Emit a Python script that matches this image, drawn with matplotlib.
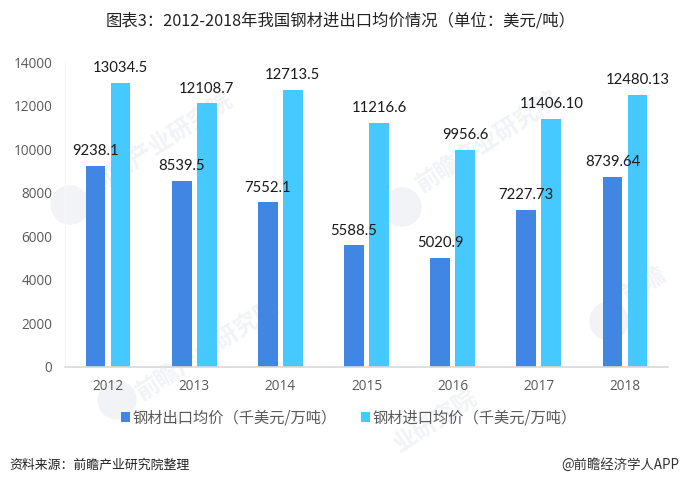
import matplotlib
matplotlib.use("Agg")
import matplotlib.pyplot as plt
from matplotlib.patches import Circle
import numpy as np

plt.rcParams["font.family"] = ["Noto Sans CJK SC", "DejaVu Sans"]

years = ["2012", "2013", "2014", "2015", "2016", "2017", "2018"]
export_price = [9238.1, 8539.5, 7552.1, 5588.5, 5020.9, 7227.73, 8739.64]
import_price = [13034.5, 12108.7, 12713.5, 11216.6, 9956.6, 11406.10, 12480.13]
export_labels = ["9238.1", "8539.5", "7552.1", "5588.5", "5020.9", "7227.73", "8739.64"]
import_labels = ["13034.5", "12108.7", "12713.5", "11216.6", "9956.6", "11406.10", "12480.13"]
y_ticks = [0, 2000, 4000, 6000, 8000, 10000, 12000, 14000]

title = "图表3：2012-2018年我国钢材进出口均价情况（单位：美元/吨）"
export_name = "钢材出口均价（千美元/万吨）"
import_name = "钢材进口均价（千美元/万吨）"

W, H = 680, 486
fig = plt.figure(figsize=(W / 100, H / 100), dpi=100, facecolor="white")
ax = fig.add_axes([65 / W, 1 - 367 / H, 603 / W, 305 / H])
ax.set_zorder(2)
ax.patch.set_alpha(0)

# faint watermark behind the bars
mark = "#f1f3f7"
for wx, wy, txt in [(162, 143, "前瞻产业研究院"), (488, 142, "前瞻产业研究院"),
                    (208, 350, "前瞻产业研究院"), (435, 420, "业研究院"), (645, 285, "前瞻")]:
    fig.text(wx / W, 1 - wy / H, txt, fontsize=17, color=mark, rotation=33,
             ha="center", va="center", fontweight="bold", zorder=0)
for cx, cy in [(70, 205), (402, 207), (117, 400), (609, 321)]:
    fig.add_artist(Circle((cx / 100, (H - cy) / 100), 0.19, color=mark,
                          transform=fig.dpi_scale_trans, zorder=0))

x = np.arange(len(years))
offset = 0.145
width = 0.23
dark = "#4286E3"
light = "#45C9FF"
latin = ["Lato", "DejaVu Sans"]
bars1 = ax.bar(x - offset, export_price, width, color=dark, label=export_name, zorder=2)
bars2 = ax.bar(x + offset, import_price, width, color=light, label=import_name, zorder=2)
ax.bar_label(bars1, labels=export_labels, padding=5.5, fontsize=10.7, color="#1a1a1a", family=latin)
ax.bar_label(bars2, labels=import_labels, padding=5.5, fontsize=10.7, color="#1a1a1a", family=latin)

ax.set_xlim(-0.5, len(years) - 0.5)
ax.set_ylim(0, 14000)
ax.set_xticks(x)
ax.set_xticklabels(years, fontsize=9.8, color="#595959", family=["Open Sans", "DejaVu Sans"])
ax.set_yticks(y_ticks)
ax.set_yticklabels([str(t) for t in y_ticks], fontsize=9.8, color="#595959",
                   family=["Open Sans", "DejaVu Sans"])
ax.tick_params(axis="both", length=0)
ax.tick_params(axis="x", pad=9)
ax.tick_params(axis="y", pad=9)
for side in ["top", "right"]:
    ax.spines[side].set_visible(False)
ax.spines["left"].set_color("#f6f6f6")
ax.spines["bottom"].set_color("#d9d9d9")
ax.spines["bottom"].set_linewidth(1.2)

fig.legend(handles=[bars1, bars2], loc="center", bbox_to_anchor=(349 / W, 1 - 418 / H),
           ncol=2, frameon=False, fontsize=11, labelcolor="#595959",
           handlelength=0.55, handleheight=0.55, handletextpad=0.18, columnspacing=1.6)

fig.text(341 / W, 1 - 21 / H, title, ha="center", va="center", fontsize=11.75, color="#222222")
fig.text(9 / W, 1 - 465 / H, "资料来源：前瞻产业研究院整理", ha="left", va="center",
         fontsize=9.3, color="#222222")
fig.text(679 / W, 1 - 465 / H, "@前瞻经济学人APP", ha="right", va="center",
         fontsize=9.6, color="#333333")

fig.savefig("out.png", dpi=100)
